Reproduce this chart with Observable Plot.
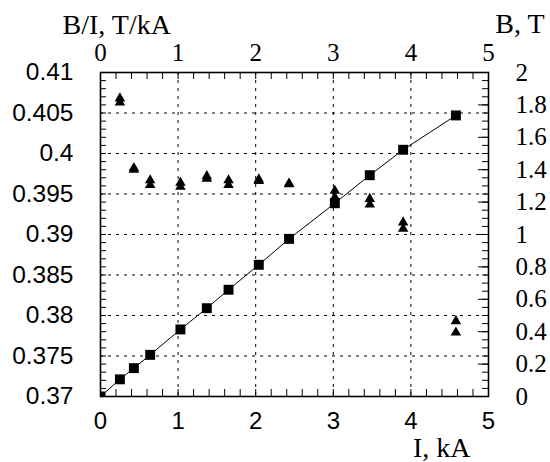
<!DOCTYPE html>
<html>
<head>
<meta charset="utf-8">
<script src="https://cdn.jsdelivr.net/npm/d3@7"></script>
<script src="https://cdn.jsdelivr.net/npm/@observablehq/plot@0.6"></script>
<style>
  html, body { margin: 0; padding: 0; background: white; }
</style>
</head>
<body>
<div id="chart"></div>
<script>
// Current I (kA) at each measurement
const current = [0, 0.25, 0.43, 0.64, 1.03, 1.37, 1.65, 2.04, 2.43, 3.02, 3.47, 3.90, 4.58];
// Field B (T) at each current (squares, right axis)
const field = [0, 0.106, 0.175, 0.257, 0.414, 0.545, 0.659, 0.813, 0.973, 1.193, 1.366, 1.523, 1.735];
// B/I (T/kA), two measurements at each non-zero current (triangles, left axis)
const ratioCurrent = [0.25, 0.43, 0.64, 1.03, 1.37, 1.65, 2.04, 2.43, 3.02, 3.47, 3.90, 4.58];
const ratioA = [0.4068, 0.3982, 0.3967, 0.3964, 0.3972, 0.3967, 0.3968, 0.3963, 0.3954, 0.3944, 0.3915, 0.3793];
const ratioB = [0.4063, 0.3980, 0.3961, 0.3959, 0.3969, 0.3961, 0.3966, 0.3962, 0.3946, 0.3937, 0.3907, 0.3779];

// Axis tick values / labels
const xTicks = [0, 1, 2, 3, 4, 5];
const xGrid = [1, 2, 3, 4];
const leftTicks = [0.37, 0.375, 0.38, 0.385, 0.39, 0.395, 0.4, 0.405, 0.41];
const leftGrid = [0.375, 0.38, 0.385, 0.39, 0.395, 0.4, 0.405];
const rightTicks = [0, 0.2, 0.4, 0.6, 0.8, 1, 1.2, 1.4, 1.6, 1.8, 2];
const titleLeft = "B/I, T/kA";
const titleRight = "B, T";
const titleBottom = "I, kA";

// Right axis (B, 0..2 T) mapped onto the left scale (0.37..0.41)
const yLo = 0.37, yHi = 0.41, bLo = 0, bHi = 2;
const toY = b => yLo + (b - bLo) * (yHi - yLo) / (bHi - bLo);
const fromY = y => bLo + (y - yLo) * (bHi - bLo) / (yHi - yLo);

const bPoints = current.map((I, i) => ({I, B: field[i]}));
const triPoints = [
  ...ratioCurrent.map((I, i) => ({I, r: ratioA[i]})),
  ...ratioCurrent.map((I, i) => ({I, r: ratioB[i]}))
];

const xMinor = d3.range(0, 5.0001, 0.2);
const yMinor = d3.range(0.37, 0.41001, 0.001);
const bMinor = d3.range(0, 2.0001, 0.05).map(toY);
const bMajor = rightTicks.map(toY);

const W = 550, H = 462, mL = 100, mR = 62, mT = 72, mB = 66;
const fw = W - mL - mR, fh = H - mT - mB;
const sans = "Liberation Sans, Arial, sans-serif";
const serif = "Liberation Serif, Times New Roman, serif";

const chart = Plot.plot({
  width: W, height: H,
  marginLeft: mL, marginRight: mR, marginTop: mT, marginBottom: mB,
  style: {background: "white", color: "black"},
  x: {domain: [0, 5], axis: null},
  y: {domain: [yLo, yHi], axis: null},
  marks: [
    // dotted grid
    Plot.ruleY(leftGrid, {y: d => d, stroke: "black", strokeWidth: 1, strokeDasharray: "3,5"}),
    Plot.ruleX(xGrid, {x: d => d, stroke: "black", strokeWidth: 1, strokeDasharray: "3,5"}),
    // inward minor ticks
    Plot.tickX(xMinor, {x: d => d, stroke: "black", insetTop: fh - 7}),
    Plot.tickX(xMinor, {x: d => d, stroke: "black", insetBottom: fh - 7}),
    Plot.tickY(yMinor, {y: d => d, stroke: "black", insetRight: fw - 6}),
    Plot.tickY(bMinor, {y: d => d, stroke: "black", insetLeft: fw - 6}),
    Plot.tickY(bMajor, {y: d => d, stroke: "black", insetLeft: fw - 10}),
    Plot.frame({stroke: "black", strokeWidth: 1.6}),
    // axis labels
    Plot.axisY({anchor: "left", label: null, ticks: leftTicks, tickSize: 0, tickPadding: 27,
      tickFormat: d => String(d), fontSize: 24.5, fontFamily: sans}),
    Plot.axisY({anchor: "right", label: null, ticks: bMajor, tickSize: 0, tickPadding: 27,
      tickFormat: d => String(+fromY(d).toFixed(2)), fontSize: 25, fontFamily: serif}),
    Plot.axisX({anchor: "bottom", label: null, ticks: xTicks, tickSize: 0, tickPadding: 15,
      tickFormat: d => String(d), fontSize: 24, fontFamily: sans}),
    Plot.axisX({anchor: "top", label: null, ticks: xTicks, tickSize: 0, tickPadding: 12,
      tickFormat: d => String(d), fontSize: 25, fontFamily: serif}),
    // titles
    Plot.text([titleLeft], {frameAnchor: "top-left", text: d => d, textAnchor: "start",
      lineAnchor: "bottom", dx: -38, dy: -39, fontSize: 28, fontFamily: serif, fill: "black"}),
    Plot.text([titleRight], {frameAnchor: "top-right", text: d => d, textAnchor: "end",
      lineAnchor: "bottom", dx: 56, dy: -40, fontSize: 28, fontFamily: serif, fill: "black"}),
    Plot.text([titleBottom], {frameAnchor: "bottom-right", text: d => d, textAnchor: "end",
      lineAnchor: "bottom", dx: -18, dy: 60, fontSize: 28, fontFamily: serif, fill: "black"}),
    // data
    Plot.line(bPoints, {x: "I", y: d => toY(d.B), stroke: "black", strokeWidth: 1}),
    Plot.dot(bPoints, {x: "I", y: d => toY(d.B), symbol: "square", r: 5.6, fill: "black", stroke: "none", clip: true}),
    Plot.dot(triPoints, {x: "I", y: "r", symbol: "triangle", r: 3.9, fill: "black", stroke: "none"})
  ]
});
document.getElementById("chart").appendChild(chart);
</script>
</body>
</html>
